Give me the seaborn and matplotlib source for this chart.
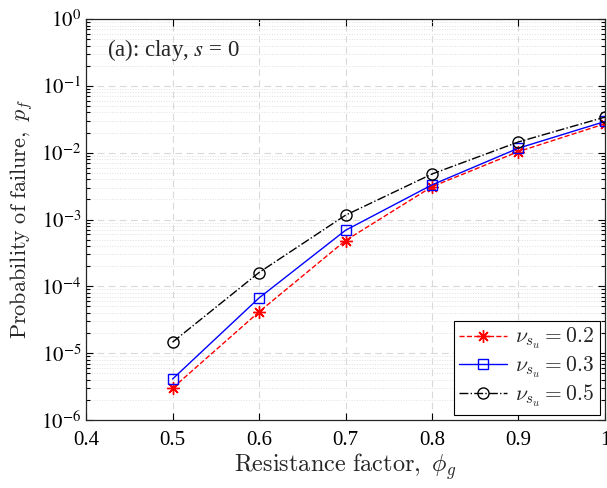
import numpy as np
import pandas as pd
import matplotlib
matplotlib.use("Agg")
import matplotlib.pyplot as plt
import seaborn as sns
from matplotlib.ticker import LogLocator, FixedLocator, FuncFormatter, NullFormatter
from matplotlib.font_manager import FontProperties

# ---- data ----
phi_g = [0.5, 0.6, 0.7, 0.8, 0.9, 1.0]
pf_02 = [3.0e-6, 4.15e-5, 4.85e-4, 3.1e-3, 1.04e-2, 2.71e-2]
pf_03 = [4.1e-6, 6.7e-5, 6.9e-4, 3.3e-3, 1.17e-2, 2.93e-2]
pf_05 = [1.46e-5, 1.61e-4, 1.16e-3, 4.8e-3, 1.45e-2, 3.41e-2]
series_labels = [r'$\nu_{s_u} = 0.2$', r'$\nu_{s_u} = 0.3$', r'$\nu_{s_u} = 0.5$']
x_ticks = [0.4, 0.5, 0.6, 0.7, 0.8, 0.9, 1.0]
x_ticklabels = ['0.4', '0.5', '0.6', '0.7', '0.8', '0.9', '1']

sns.set_style('ticks')
plt.rcParams['font.family'] = ['Liberation Serif', 'DejaVu Serif']
plt.rcParams['mathtext.fontset'] = 'stix'

fig = plt.figure(figsize=(6.07, 4.88), dpi=100)
ax = fig.add_axes([0.1417, 0.1393, 0.8550, 0.8217])

styles = [
    dict(color='red', marker=(8, 2, 0), linestyle='--', markersize=9, mew=1.0, mfc='none'),
    dict(color='blue', marker='s', linestyle='-', markersize=7, mew=1.0, mfc='none'),
    dict(color='black', marker='o', linestyle='-.', markersize=8, mew=1.0, mfc='none'),
]
for vals, lab, st in zip([pf_02, pf_03, pf_05], series_labels, styles):
    df = pd.DataFrame({'phi': phi_g, 'pf': vals})
    sns.lineplot(data=df, x='phi', y='pf', ax=ax, label=lab, linewidth=1.0,
                 markeredgecolor=st['color'], **st)

ax.set_yscale('log')
ax.set_xlim(0.4, 1.0)
ax.set_ylim(1e-6, 1)

ax.xaxis.set_major_locator(FixedLocator(x_ticks))
ax.set_xticklabels(x_ticklabels)
ax.yaxis.set_major_locator(LogLocator(base=10, numticks=10))
ax.yaxis.set_minor_locator(LogLocator(base=10, subs=np.arange(2, 10), numticks=20))
ax.yaxis.set_minor_formatter(NullFormatter())
ax.yaxis.set_major_formatter(FuncFormatter(lambda v, p: r'$10^{%d}$' % int(round(np.log10(v)))))

ax.tick_params(axis='both', which='both', direction='in', top=True, right=True,
               labelsize=15, width=0.8, colors='black')
ax.tick_params(axis='both', which='major', length=5)
ax.tick_params(axis='y', which='minor', length=3)
ax.tick_params(axis='x', which='major', pad=8)

ax.grid(True, which='major', axis='both', linestyle=(0, (6, 4)), color='#d9d9d9', linewidth=0.8)
ax.grid(True, which='minor', axis='y', linestyle=':', color='#e0e0e0', linewidth=0.7)
for s in ax.spines.values():
    s.set_linewidth(0.9)
    s.set_color('#262626')

ax.set_xlabel(r'$\mathrm{Resistance\ factor,}\ \phi_g$', fontsize=17.5, math_fontfamily='cm', labelpad=1)
ax.set_ylabel(r'$\mathrm{Probability\ of\ failure,}\ p_f$', fontsize=16, math_fontfamily='cm', labelpad=4)

ax.text(0.04, 0.955, r'(a): clay, $s$ = 0', transform=ax.transAxes, fontsize=16.5, va='top', ha='left')

leg = ax.legend(loc='lower right', bbox_to_anchor=(1.0, 0.0), borderaxespad=0.25,
                prop=FontProperties(family='Liberation Serif', size=15.5, math_fontfamily='cm'),
                fancybox=False, edgecolor='black', framealpha=1, handlelength=2.2,
                borderpad=0.25, labelspacing=0.15, handletextpad=0.4)
leg.get_frame().set_linewidth(0.8)

fig.savefig('out.png', dpi=100)
